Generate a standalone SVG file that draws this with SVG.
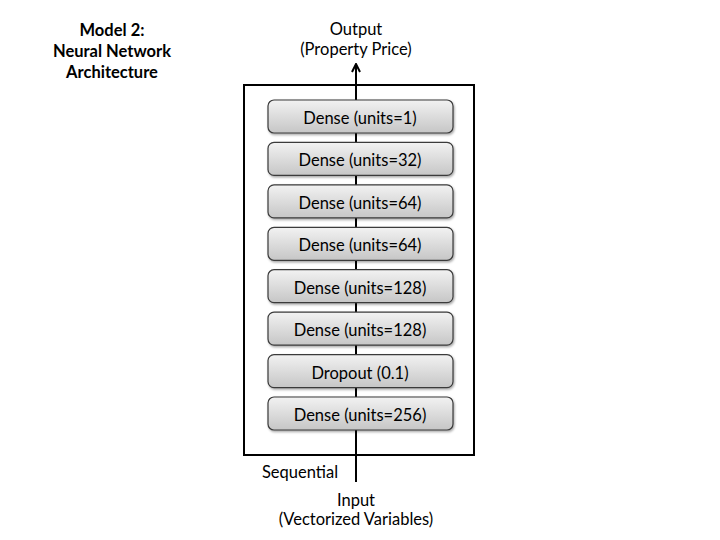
<svg xmlns="http://www.w3.org/2000/svg" width="720" height="540" viewBox="0 0 720 540">
<defs>
<linearGradient id="g" x1="0" y1="0" x2="0" y2="1">
<stop offset="0" stop-color="#f2f2f2"/>
<stop offset="1" stop-color="#c6c6c6"/>
</linearGradient>
<filter id="sh" x="-5%" y="-20%" width="115%" height="150%">
<feDropShadow dx="1" dy="1.5" stdDeviation="1" flood-color="#000" flood-opacity="0.35"/>
</filter>
<marker id="ah" viewBox="0 0 10 10" refX="9" refY="5" markerWidth="10" markerHeight="10" markerUnits="userSpaceOnUse" orient="auto">
<path d="M1,1 L9,5 L1,9" fill="none" stroke="#000" stroke-width="2"/>
</marker>
</defs>
<style>
text{font-family:Lato,"Open Sans","Liberation Sans",sans-serif;font-size:16.5px;fill:#000;text-anchor:middle}
.t{font-weight:bold}
.b{fill:url(#g);stroke:#3a3a3a;stroke-width:1.2;filter:url(#sh)}
</style>
<rect width="720" height="540" fill="#fff"/>
<g id="title">
<text class="t" x="112" y="36">Model 2:</text>
<text class="t" x="112" y="57">Neural Network</text>
<text class="t" x="112" y="78">Architecture</text>
</g>
<g id="sequential">
<rect x="244" y="85" width="230" height="370" fill="none" stroke="#000" stroke-width="2"/>
<text x="300" y="478">Sequential</text>
</g>
<g id="connectors">
<line x1="356" y1="482" x2="356" y2="64" stroke="#000" stroke-width="2" marker-end="url(#ah)"/>
</g>
<g id="output"><text x="356" y="35">Output</text><text x="356" y="55">(Property Price)</text></g>
<g id="input"><text x="356" y="506">Input</text><text x="356" y="525">(Vectorized Variables)</text></g>
<g id="n1"><rect class="b" x="268" y="100" width="185" height="33" rx="6"/><text x="360" y="124">Dense (units=1)</text></g>
<g id="n2"><rect class="b" x="268" y="142.4" width="185" height="33" rx="6"/><text x="360" y="166.4">Dense (units=32)</text></g>
<g id="n3"><rect class="b" x="268" y="184.9" width="185" height="33" rx="6"/><text x="360" y="208.9">Dense (units=64)</text></g>
<g id="n4"><rect class="b" x="268" y="227.3" width="185" height="33" rx="6"/><text x="360" y="251.3">Dense (units=64)</text></g>
<g id="n5"><rect class="b" x="268" y="269.7" width="185" height="33" rx="6"/><text x="360" y="293.7">Dense (units=128)</text></g>
<g id="n6"><rect class="b" x="268" y="312.1" width="185" height="33" rx="6"/><text x="360" y="336.1">Dense (units=128)</text></g>
<g id="n7"><rect class="b" x="268" y="354.6" width="185" height="33" rx="6"/><text x="360" y="378.6">Dropout (0.1)</text></g>
<g id="n8"><rect class="b" x="268" y="397" width="185" height="33" rx="6"/><text x="360" y="421">Dense (units=256)</text></g>
</svg>
